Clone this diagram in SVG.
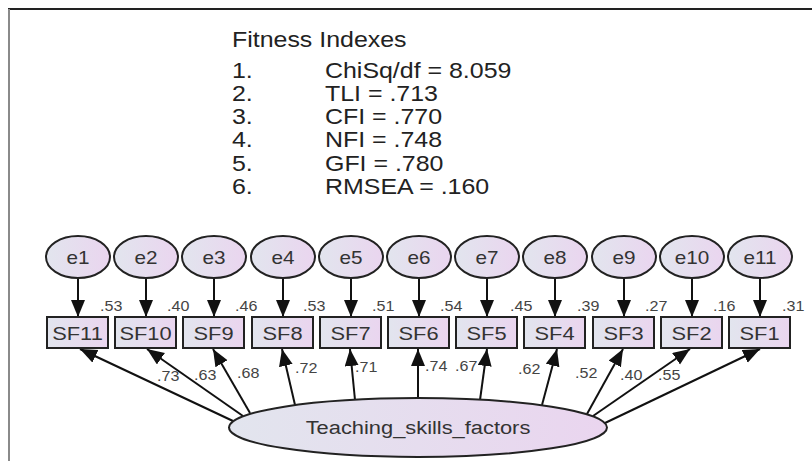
<svg xmlns="http://www.w3.org/2000/svg" width="812" height="461" viewBox="0 0 812 461">
  <defs>
    <linearGradient id="fillGrad" x1="0" y1="0" x2="1" y2="0">
      <stop offset="0" stop-color="#e2e5ee"/>
      <stop offset="1" stop-color="#ead5ef"/>
    </linearGradient>
    <marker id="arrow" markerUnits="userSpaceOnUse" markerWidth="19" markerHeight="15" refX="17" refY="7" orient="auto">
      <path d="M0,0 L17,7 L0,14 z" fill="#111"/>
    </marker>
    <style>
      .frameTop { stroke: #222; stroke-width: 2; }
      .frameLeft { stroke: #8a8a8a; stroke-width: 2; }
      text { font-family: "Liberation Sans", Arial, sans-serif; }
      .fit { font-size: 21.5px; fill: #222; }
      .err ellipse, .obs rect, .latent ellipse { fill: url(#fillGrad); stroke: #222; stroke-width: 2; }
      .err text { font-size: 18px; fill: #333; text-anchor: middle; }
      .obs text { font-size: 19px; fill: #333; text-anchor: middle; }
      .latent text { font-size: 19px; fill: #333; text-anchor: middle; }
      .edges line { stroke: #111; stroke-width: 2; marker-end: url(#arrow); }
      .coef { font-size: 14px; fill: #444; }
    </style>
  </defs>

  <rect x="0" y="0" width="812" height="461" fill="#ffffff"/>
  <line class="frameTop" x1="8" y1="9" x2="812" y2="9"/>
  <line class="frameLeft" x1="9" y1="9" x2="9" y2="461"/>

  <!-- fit statistics (type is set slightly wide, hence the x-scale) -->
  <g id="fitness" class="fit">
    <text transform="matrix(1.16 0 0 1 232 47)">Fitness Indexes</text>
    <text transform="matrix(1.16 0 0 1 232 78)">1.</text><text transform="matrix(1.16 0 0 1 325 78)">ChiSq/df = 8.059</text>
    <text transform="matrix(1.16 0 0 1 232 101)">2.</text><text transform="matrix(1.16 0 0 1 325 101)">TLI = .713</text>
    <text transform="matrix(1.16 0 0 1 232 124)">3.</text><text transform="matrix(1.16 0 0 1 325 124)">CFI = .770</text>
    <text transform="matrix(1.16 0 0 1 232 147)">4.</text><text transform="matrix(1.16 0 0 1 325 147)">NFI = .748</text>
    <text transform="matrix(1.16 0 0 1 232 171)">5.</text><text transform="matrix(1.16 0 0 1 325 171)">GFI = .780</text>
    <text transform="matrix(1.16 0 0 1 232 194)">6.</text><text transform="matrix(1.16 0 0 1 325 194)">RMSEA = .160</text>
  </g>

  <!-- connectors -->
  <g id="connectors" class="edges">
    <line x1="78" y1="278" x2="78" y2="317"/>
    <line x1="146" y1="278" x2="146" y2="317"/>
    <line x1="214" y1="278" x2="214" y2="317"/>
    <line x1="283" y1="278" x2="283" y2="317"/>
    <line x1="351" y1="278" x2="351" y2="317"/>
    <line x1="419" y1="278" x2="419" y2="317"/>
    <line x1="487" y1="278" x2="487" y2="317"/>
    <line x1="555" y1="278" x2="555" y2="317"/>
    <line x1="624" y1="278" x2="624" y2="317"/>
    <line x1="692" y1="278" x2="692" y2="317"/>
    <line x1="760" y1="278" x2="760" y2="317"/>

    <line x1="233" y1="421" x2="80" y2="349"/>
    <line x1="243" y1="416" x2="147" y2="349"/>
    <line x1="250" y1="413" x2="213" y2="349"/>
    <line x1="295" y1="405" x2="282" y2="349"/>
    <line x1="355" y1="400" x2="350" y2="349"/>
    <line x1="418" y1="398" x2="418" y2="349"/>
    <line x1="480" y1="400" x2="487" y2="349"/>
    <line x1="542" y1="405" x2="557" y2="349"/>
    <line x1="587" y1="414" x2="623" y2="349"/>
    <line x1="593" y1="416" x2="690" y2="349"/>
    <line x1="605" y1="423" x2="760" y2="349"/>
  </g>

  <!-- error terms -->
  <g id="e1" class="err"><ellipse cx="78" cy="257" rx="32" ry="21"/><text transform="matrix(1.15 0 0 1 78 264)">e1</text></g>
  <g id="e2" class="err"><ellipse cx="146" cy="257" rx="32" ry="21"/><text transform="matrix(1.15 0 0 1 146 264)">e2</text></g>
  <g id="e3" class="err"><ellipse cx="214" cy="257" rx="32" ry="21"/><text transform="matrix(1.15 0 0 1 214 264)">e3</text></g>
  <g id="e4" class="err"><ellipse cx="283" cy="257" rx="32" ry="21"/><text transform="matrix(1.15 0 0 1 283 264)">e4</text></g>
  <g id="e5" class="err"><ellipse cx="351" cy="257" rx="32" ry="21"/><text transform="matrix(1.15 0 0 1 351 264)">e5</text></g>
  <g id="e6" class="err"><ellipse cx="419" cy="257" rx="32" ry="21"/><text transform="matrix(1.15 0 0 1 419 264)">e6</text></g>
  <g id="e7" class="err"><ellipse cx="487" cy="257" rx="32" ry="21"/><text transform="matrix(1.15 0 0 1 487 264)">e7</text></g>
  <g id="e8" class="err"><ellipse cx="555" cy="257" rx="32" ry="21"/><text transform="matrix(1.15 0 0 1 555 264)">e8</text></g>
  <g id="e9" class="err"><ellipse cx="624" cy="257" rx="32" ry="21"/><text transform="matrix(1.15 0 0 1 624 264)">e9</text></g>
  <g id="e10" class="err"><ellipse cx="692" cy="257" rx="32" ry="21"/><text transform="matrix(1.15 0 0 1 692 264)">e10</text></g>
  <g id="e11" class="err"><ellipse cx="760" cy="257" rx="32" ry="21"/><text transform="matrix(1.15 0 0 1 760 264)">e11</text></g>

  <!-- observed indicators -->
  <g id="SF11" class="obs"><rect x="47" y="317" width="61" height="31"/><text transform="matrix(1.15 0 0 1 77.5 339.5)">SF11</text></g>
  <g id="SF10" class="obs"><rect x="115" y="317" width="61" height="31"/><text transform="matrix(1.15 0 0 1 145.5 339.5)">SF10</text></g>
  <g id="SF9" class="obs"><rect x="183" y="317" width="61" height="31"/><text transform="matrix(1.15 0 0 1 213.5 339.5)">SF9</text></g>
  <g id="SF8" class="obs"><rect x="252" y="317" width="61" height="31"/><text transform="matrix(1.15 0 0 1 282.5 339.5)">SF8</text></g>
  <g id="SF7" class="obs"><rect x="320" y="317" width="61" height="31"/><text transform="matrix(1.15 0 0 1 350.5 339.5)">SF7</text></g>
  <g id="SF6" class="obs"><rect x="388" y="317" width="61" height="31"/><text transform="matrix(1.15 0 0 1 418.5 339.5)">SF6</text></g>
  <g id="SF5" class="obs"><rect x="456" y="317" width="61" height="31"/><text transform="matrix(1.15 0 0 1 486.5 339.5)">SF5</text></g>
  <g id="SF4" class="obs"><rect x="524" y="317" width="61" height="31"/><text transform="matrix(1.15 0 0 1 554.5 339.5)">SF4</text></g>
  <g id="SF3" class="obs"><rect x="593" y="317" width="61" height="31"/><text transform="matrix(1.15 0 0 1 623.5 339.5)">SF3</text></g>
  <g id="SF2" class="obs"><rect x="661" y="317" width="61" height="31"/><text transform="matrix(1.15 0 0 1 691.5 339.5)">SF2</text></g>
  <g id="SF1" class="obs"><rect x="729" y="317" width="61" height="31"/><text transform="matrix(1.15 0 0 1 759.5 339.5)">SF1</text></g>

  <!-- latent factor -->
  <g id="Teaching_skills_factors" class="latent">
    <ellipse cx="418" cy="427.5" rx="189" ry="29.5"/>
    <text transform="matrix(1.15 0 0 1 418 434)">Teaching_skills_factors</text>
  </g>

  <!-- squared multiple correlations -->
  <g id="r2-labels" class="coef">
    <text transform="matrix(1.15 0 0 1 100 311)">.53</text>
    <text transform="matrix(1.15 0 0 1 167 311)">.40</text>
    <text transform="matrix(1.15 0 0 1 235 311)">.46</text>
    <text transform="matrix(1.15 0 0 1 303 311)">.53</text>
    <text transform="matrix(1.15 0 0 1 372 311)">.51</text>
    <text transform="matrix(1.15 0 0 1 440 311)">.54</text>
    <text transform="matrix(1.15 0 0 1 510 311)">.45</text>
    <text transform="matrix(1.15 0 0 1 577 311)">.39</text>
    <text transform="matrix(1.15 0 0 1 645 311)">.27</text>
    <text transform="matrix(1.15 0 0 1 713 311)">.16</text>
    <text transform="matrix(1.15 0 0 1 782 311)">.31</text>
  </g>

  <!-- standardized loadings -->
  <g id="loading-labels" class="coef">
    <text transform="matrix(1.15 0 0 1 157 381)">.73</text>
    <text transform="matrix(1.15 0 0 1 194 380)">.63</text>
    <text transform="matrix(1.15 0 0 1 237 378)">.68</text>
    <text transform="matrix(1.15 0 0 1 295 373)">.72</text>
    <text transform="matrix(1.15 0 0 1 355 372)">.71</text>
    <text transform="matrix(1.15 0 0 1 425 371)">.74</text>
    <text transform="matrix(1.15 0 0 1 455 371)">.67</text>
    <text transform="matrix(1.15 0 0 1 518 374)">.62</text>
    <text transform="matrix(1.15 0 0 1 575 378)">.52</text>
    <text transform="matrix(1.15 0 0 1 620 380)">.40</text>
    <text transform="matrix(1.15 0 0 1 658 380)">.55</text>
  </g>
</svg>
